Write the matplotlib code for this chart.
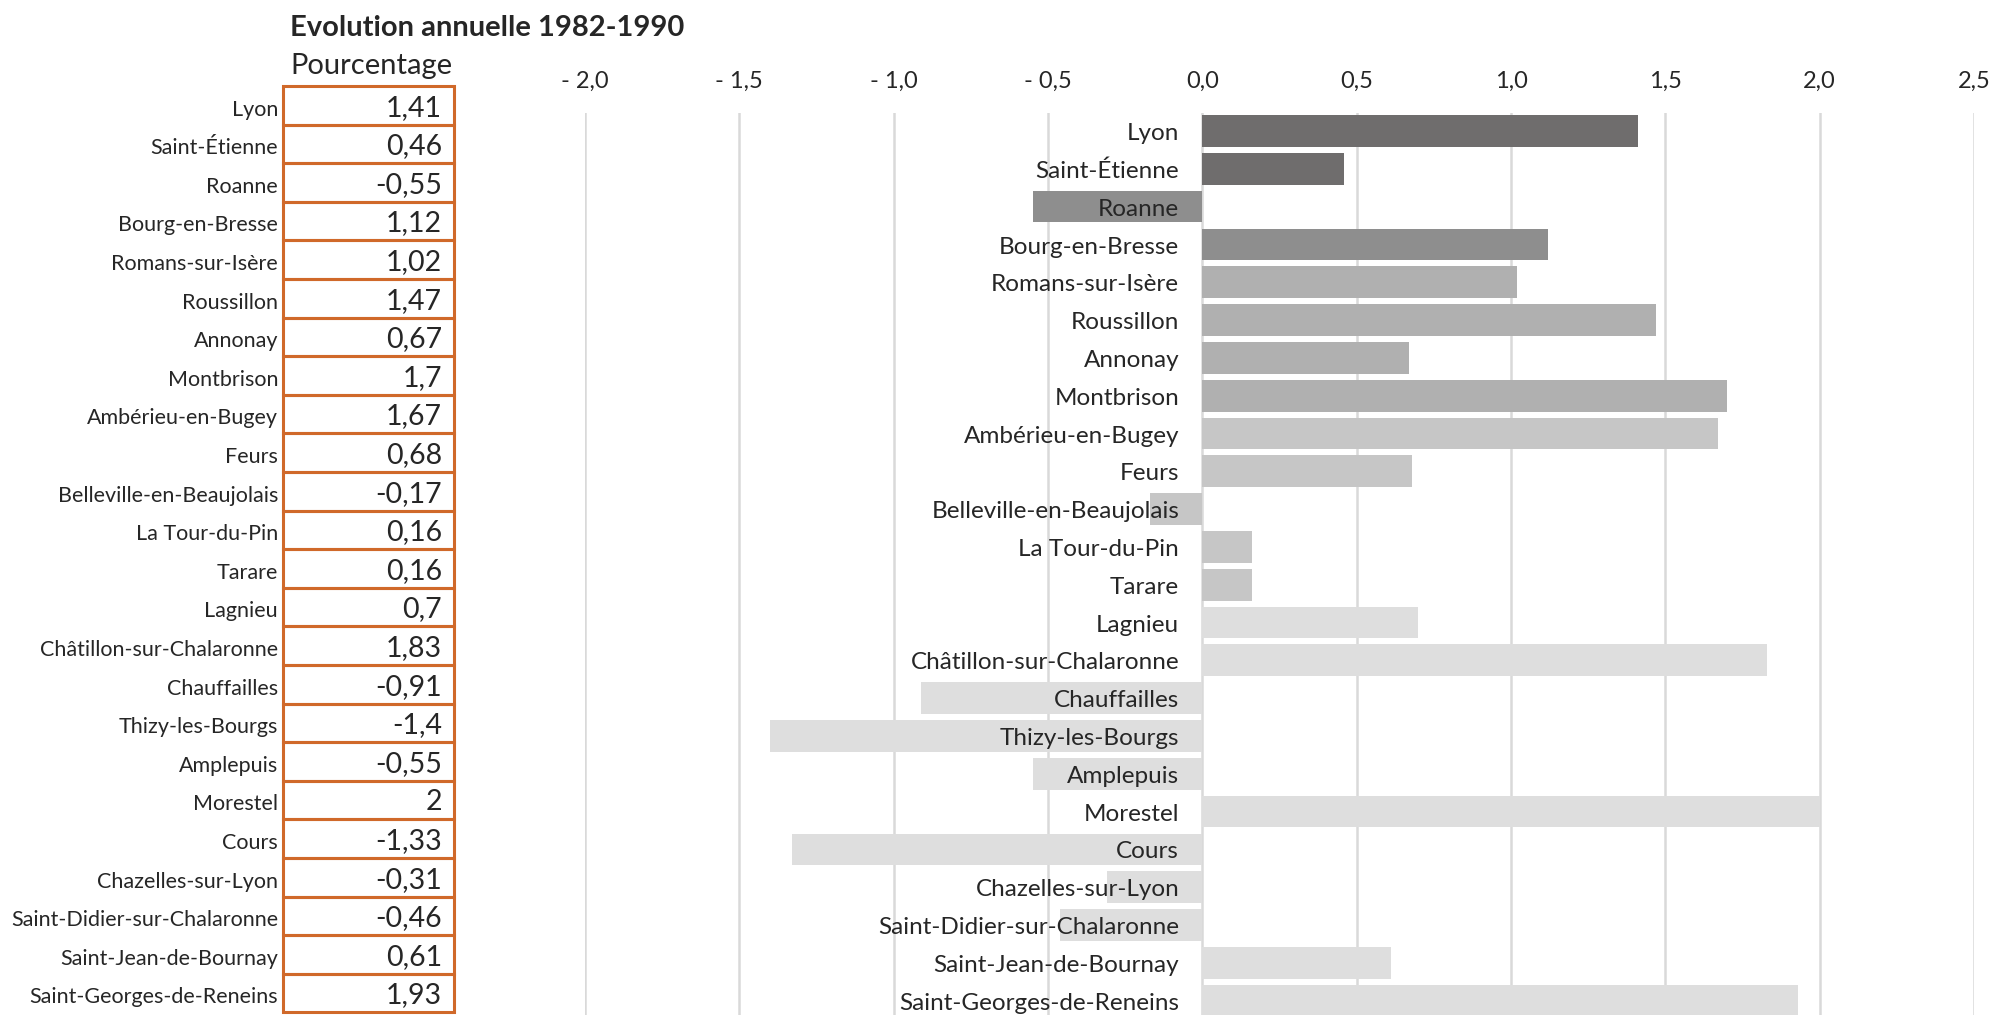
import numpy as np
import matplotlib
matplotlib.use('Agg')
import matplotlib.pyplot as plt
from matplotlib.patches import Rectangle

plt.rcParams['font.family'] = ['Lato', 'DejaVu Sans']

communes = [
    'Lyon', 'Saint-Étienne', 'Roanne', 'Bourg-en-Bresse', 'Romans-sur-Isère',
    'Roussillon', 'Annonay', 'Montbrison', 'Ambérieu-en-Bugey', 'Feurs',
    'Belleville-en-Beaujolais', 'La Tour-du-Pin', 'Tarare', 'Lagnieu',
    'Châtillon-sur-Chalaronne', 'Chauffailles', 'Thizy-les-Bourgs', 'Amplepuis',
    'Morestel', 'Cours', 'Chazelles-sur-Lyon', 'Saint-Didier-sur-Chalaronne',
    'Saint-Jean-de-Bournay', 'Saint-Georges-de-Reneins',
]
evolution = [
    1.41, 0.46, -0.55, 1.12, 1.02, 1.47, 0.67, 1.7, 1.67, 0.68, -0.17, 0.16,
    0.16, 0.7, 1.83, -0.91, -1.4, -0.55, 2, -1.33, -0.31, -0.46, 0.61, 1.93,
]
# size class of each commune -> shade of grey
classe = [0, 0, 1, 1, 2, 2, 2, 2, 3, 3, 3, 3, 3, 4, 4, 4, 4, 4, 4, 4, 4, 4, 4, 4]
gris = ['#6f6d6d', '#8e8e8e', '#b0b0b0', '#c6c6c6', '#dedede']
xticks = [-2.0, -1.5, -1.0, -0.5, 0.0, 0.5, 1.0, 1.5, 2.0, 2.5]

TXT = '#262626'
ORANGE = '#d0692a'
W, H = 1995, 1015


def fr(v):
    s = f'{v:.2f}'.rstrip('0').rstrip('.')
    return s.replace('.', ',')


def tick_fr(v):
    s = f'{abs(v):.1f}'.replace('.', ',')
    return '- ' + s if v < 0 else s


fig = plt.figure(figsize=(W / 100, H / 100), dpi=100)

# titles
fig.text(290 / W, 1 - 36 / H, 'Evolution annuelle 1982-1990', fontsize=21,
         fontweight='bold', color=TXT, va='baseline', ha='left')
fig.text(290 / W, 1 - 74 / H, 'Pourcentage', fontsize=21, color=TXT,
         va='baseline', ha='left')

# table of values
tab = fig.add_axes([0, 0, 1, 1])
tab.set_xlim(0, W)
tab.set_ylim(H, 0)
tab.axis('off')
top, row_h = 86, 38.6
for i, (name, v) in enumerate(zip(communes, evolution)):
    y0 = top + i * row_h
    tab.add_patch(Rectangle((283, y0), 171, row_h, fill=False,
                            edgecolor=ORANGE, linewidth=2.2))
    tab.text(278, y0 + row_h - 9, name, fontsize=15.5, color=TXT,
             ha='right', va='baseline')
    tab.text(442, y0 + row_h - 9, fr(v), fontsize=20.5, color=TXT,
             ha='right', va='baseline')

# bar chart
ax = fig.add_axes([585 / W, 0, (1974 - 585) / W, (1015 - 113) / H])
ypos = np.arange(len(communes))
ax.barh(ypos, evolution, height=0.84, color=[gris[c] for c in classe], zorder=2)
for y, name in zip(ypos, communes):
    ax.text(-0.075, y + 0.24, name, fontsize=17.5, color=TXT, ha='right',
            va='baseline', zorder=3)
ax.set_xlim(-2.0, 2.5)
ax.set_ylim(23.38, -0.476)
ax.set_xticks(xticks)
ax.set_xticklabels([tick_fr(t) for t in xticks], fontsize=17, color=TXT)
ax.xaxis.tick_top()
ax.tick_params(axis='x', length=0, pad=15)
ax.set_yticks([])
ax.grid(axis='x', color='#d9d9d9', linewidth=1.8, zorder=0)
ax.set_axisbelow(True)
for s in ax.spines.values():
    s.set_visible(False)
ax.patch.set_alpha(0)

fig.savefig('out.png', dpi=100)
